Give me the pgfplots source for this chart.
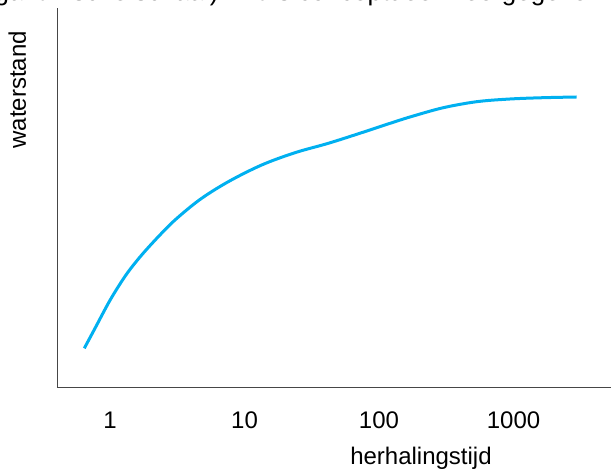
\documentclass[border=0pt]{standalone}
\usepackage{fontspec}
\setmainfont{Liberation Sans}
\usepackage{pgfplots}
\pgfplotsset{compat=1.18}
\definecolor{curveblue}{RGB}{0,176,240}
\definecolor{axisgray}{RGB}{70,70,70}
\newcommand{\bigfont}{\fontsize{24bp}{28bp}\selectfont}
\newcommand{\bodyfont}{\fontsize{26bp}{30bp}\selectfont}

\begin{document}
\begin{tikzpicture}
\begin{axis}[
  at={(57bp,83bp)}, anchor=south west,
  scale only axis,
  width=563bp, height=379bp,
  xmode=log,
  xmin=0.4036, xmax=6190,
  ymin=0, ymax=379,
  axis x line=bottom, axis y line=left,
  axis line style={-, draw=axisgray, line width=0.9bp},
  xtick={1,10,100,1000},
  xticklabels={1,10,100,1000},
  ytick=\empty,
  major tick length=0pt,
  minor tick num=0,
  xtick style={draw=none},
  xticklabel style={font=\bigfont, anchor=base, yshift=-41bp},
  xlabel={herhalingstijd},
  xlabel style={font=\bigfont, at={(rel axis cs:0.6465,0)}, anchor=base, yshift=-77bp},
  ylabel={waterstand},
  ylabel style={font=\bigfont, at={(axis description cs:-0.0551,0.784)}, anchor=base, rotate=0},
  clip=false,
]
% conceptual water level against return period (log scale)
\addplot[curveblue, line width=3bp, smooth, tension=0.55] coordinates {
  (0.644,38.7) (0.7737,58.7) (0.9714,83.7) (1.152,100.3) (1.368,115.3)
  (1.720,132) (2.287,150.3) (3.043,167) (4.668,187.5) (7.58,205.3)
  (13.42,222) (23.74,234.3) (42.0,243.7) (74.3,254.3) (131.5,265.3)
  (179.9,271) (300.7,279.3) (532.6,285.3) (941.9,288) (1666,289.3)
  (2951,290)
};
\end{axis}
\node[font=\bodyfont, anchor=base east, inner sep=0] at (226bp,469bp) {logaritmische schaal).};
\node[font=\bodyfont, anchor=base west, inner sep=0] at (233bp,469bp) {Dit is conceptueel weergegeven in};
\pgfresetboundingbox
\useasboundingbox (0,0) rectangle (611bp,470bp);
\end{tikzpicture}
\end{document}
